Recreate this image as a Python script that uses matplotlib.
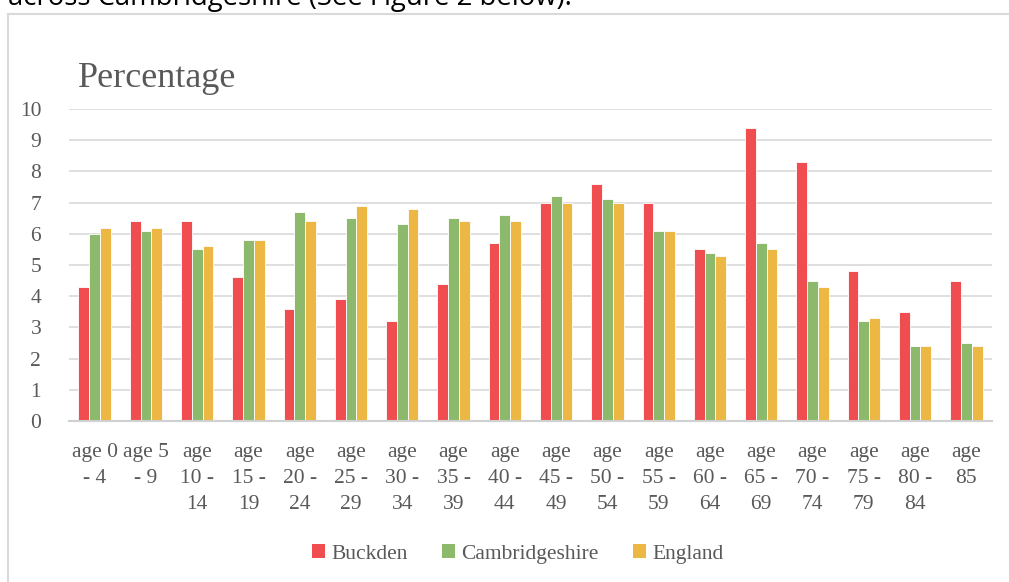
import matplotlib
matplotlib.use("Agg")
import matplotlib.pyplot as plt
from matplotlib.patches import Patch
from matplotlib.lines import Line2D
import numpy as np

categories = ["age 0\n- 4", "age 5\n- 9", "age\n10 -\n14", "age\n15 -\n19", "age\n20 -\n24",
              "age\n25 -\n29", "age\n30 -\n34", "age\n35 -\n39", "age\n40 -\n44", "age\n45 -\n49",
              "age\n50 -\n54", "age\n55 -\n59", "age\n60 -\n64", "age\n65 -\n69", "age\n70 -\n74",
              "age\n75 -\n79", "age\n80 -\n84", "age\n85"]
buckden = [4.3, 6.4, 6.4, 4.6, 3.6, 3.9, 3.2, 4.4, 5.7, 7.0, 7.6, 7.0, 5.5, 9.4, 8.3, 4.8, 3.5, 4.5]
cambs = [6.0, 6.1, 5.5, 5.8, 6.7, 6.5, 6.3, 6.5, 6.6, 7.2, 7.1, 6.1, 5.4, 5.7, 4.5, 3.2, 2.4, 2.5]
england = [6.2, 6.2, 5.6, 5.8, 6.4, 6.9, 6.8, 6.4, 6.4, 7.0, 7.0, 6.1, 5.3, 5.5, 4.3, 3.3, 2.4, 2.4]
series_names = ["Buckden", "Cambridgeshire", "England"]
yticks = list(range(0, 11))

colors = ["#EF4D50", "#8DB96C", "#ECB742"]
txt = "#595959"
serif = ["Liberation Serif", "DejaVu Serif"]

W, H = 1009, 582
fig = plt.figure(figsize=(W / 100, H / 100), dpi=100)
fig.patch.set_facecolor("white")

# frame of the chart box
fig.add_artist(Line2D([8 / W, 1.0], [1 - 14 / H, 1 - 14 / H], color="#d9d9d9", lw=1.5))
fig.add_artist(Line2D([8 / W, 8 / W], [0, 1 - 14 / H], color="#d9d9d9", lw=1.5))

# cut-off document text at top
fig.text(8 / W, 1 - 5.5 / H, "across Cambridgeshire (See Figure 2 below).", fontsize=19.8,
         family=["Open Sans", "DejaVu Sans"], color="#000000", va="baseline", ha="left")

ax = fig.add_axes([69 / W, 1 - 421 / H, (992 - 69) / W, (421 - 109) / H])
x = np.arange(len(categories))
bw = 0.21
for i, (vals, c) in enumerate(zip([buckden, cambs, england], colors)):
    ax.bar(x + (i - 1) * bw, vals, width=bw, color=c, edgecolor="white", linewidth=0.6,
           zorder=3, label=series_names[i])

ax.set_xlim(-0.5, len(categories) - 0.5)
ax.set_ylim(0, 10)
ax.set_yticks(yticks)
ax.set_yticklabels([str(t) for t in yticks], family=serif, fontsize=15.5, color=txt)
ax.set_xticks(x)
ax.set_xticklabels(categories, family=serif, fontsize=15.5, color=txt, linespacing=1.5)
ax.tick_params(axis="both", length=0)
ax.tick_params(axis="y", pad=20)
ax.tick_params(axis="x", pad=16)
ax.grid(axis="y", color="#d9d9d9", lw=1.2, zorder=0)
for s in ["top", "right", "left"]:
    ax.spines[s].set_visible(False)
ax.spines["bottom"].set_color("#d0d0d0")
ax.spines["bottom"].set_linewidth(1.5)
ax.spines["bottom"].set_zorder(4)

fig.text(78 / W, 1 - 87 / H, "Percentage", family=serif, fontsize=26, color=txt,
         va="baseline", ha="left")

handles = [Patch(facecolor=c, edgecolor="none") for c in colors]
fig.legend(handles, series_names, loc="center", bbox_to_anchor=(518 / W, 1 - 554 / H),
           ncol=3, frameon=False, prop={"family": serif, "size": 15.5},
           labelcolor=txt, handlelength=0.6, handleheight=0.6, handletextpad=0.3,
           columnspacing=1.6)

fig.savefig("out.png", dpi=100)
